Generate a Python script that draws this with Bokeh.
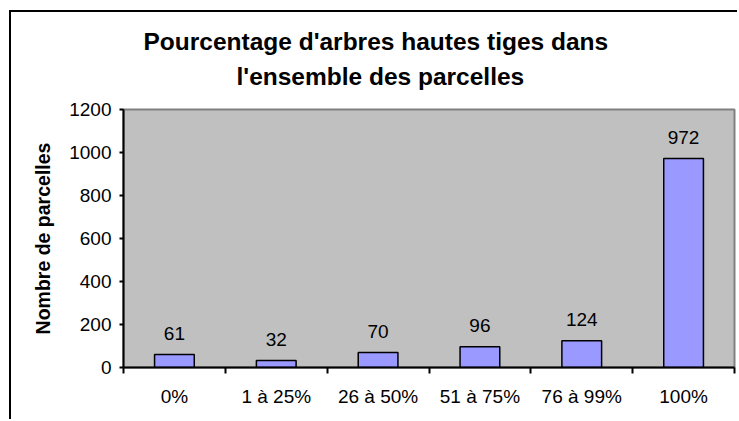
from bokeh.plotting import figure
from bokeh.models import ColumnDataSource, FixedTicker, Title, Range1d
from bokeh.embed import file_html
from bokeh.resources import INLINE
from bokeh.core.properties import value

categories = ["0%", "1 à 25%", "26 à 50%", "51 à 75%", "76 à 99%", "100%"]
counts = [61, 32, 70, 96, 124, 972]
y_ticks = [0, 200, 400, 600, 800, 1000, 1200]
title_lines = ["Pourcentage d'arbres hautes tiges dans", "l'ensemble des parcelles"]
y_label = "Nombre de parcelles"

FONT = "Liberation Sans"
xs = [i + 0.5 for i in range(len(categories))]
src = ColumnDataSource(dict(x=xs, top=counts, label=[str(c) for c in counts]))

p = figure(width=728, height=409, output_backend="svg", toolbar_location=None,
           x_range=Range1d(0, len(categories)), y_range=Range1d(y_ticks[0], y_ticks[-1]),
           min_border_left=112, min_border_right=5, min_border_bottom=54, min_border_top=97)

# outer chart border: left and top edges (the rest is cut off in the reference)
p.styles = {"margin-left": "9px", "margin-top": "10px",
            "border-left": "2px solid black", "border-top": "2px solid black"}

p.background_fill_color = "#C0C0C0"
p.border_fill_color = "white"
p.outline_line_color = "#808080"
p.outline_line_width = 2
p.xgrid.visible = False
p.ygrid.visible = False

# Two-line chart title. Panels stack outward from the frame:
# [spacer, line 2] then p.title (line 1) outermost.
title_style = dict(align="left", text_font=FONT, text_font_size="24.5px",
                   text_font_style="bold", text_color="black")
p.title.text = title_lines[0]
p.title.offset = 20
p.title.standoff = 6
for k, v in title_style.items():
    setattr(p.title, k, v)
p.add_layout(Title(text=" ", text_font_size="1px", standoff=14), "above")
p.add_layout(Title(text=title_lines[1], offset=113, standoff=6, **title_style), "above")

p.vbar(x="x", top="top", bottom=0, width=0.39, source=src,
       fill_color="#9999FF", line_color="black", line_width=1.5)
p.text(x="x", y="top", text="label", source=src, text_align="center",
       text_baseline="alphabetic", y_offset=-21, text_font=value(FONT),
       text_font_size="19px", text_color="black")

# x axis: labels at centers, ticks at boundaries
xa = p.xaxis[0]
xa.ticker = FixedTicker(ticks=xs, minor_ticks=list(range(len(categories) + 1)))
xa.major_label_overrides = {x: c for x, c in zip(xs, categories)}
xa.major_tick_in = 0
xa.major_tick_out = 0
xa.minor_tick_in = 0
xa.minor_tick_out = 6
xa.minor_tick_line_color = "black"
xa.minor_tick_line_width = 2
xa.axis_line_color = "black"
xa.axis_line_width = 2
xa.major_label_standoff = 12
xa.major_label_text_font = FONT
xa.major_label_text_font_size = "19px"
xa.major_label_text_color = "black"

ya = p.yaxis[0]
ya.ticker = FixedTicker(ticks=y_ticks, minor_ticks=[])
ya.major_tick_in = 0
ya.major_tick_out = 4
ya.major_tick_line_width = 2
ya.major_tick_line_color = "black"
ya.minor_tick_line_color = None
ya.axis_line_color = "black"
ya.axis_line_width = 2
ya.major_label_standoff = 8
ya.major_label_text_font = FONT
ya.major_label_text_font_size = "19px"
ya.major_label_text_color = "black"
ya.axis_label = y_label
ya.axis_label_text_font = FONT
ya.axis_label_text_font_size = "19.5px"
ya.axis_label_text_font_style = "bold"
ya.axis_label_text_color = "black"
ya.axis_label_standoff = 12

open("out.html", "w").write(file_html(p, INLINE))
